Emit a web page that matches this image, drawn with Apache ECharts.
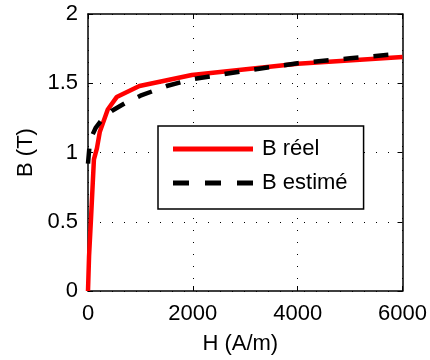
<!DOCTYPE html>
<html>
<head>
<meta charset="utf-8">
<script src="https://cdn.jsdelivr.net/npm/echarts@6/dist/echarts.min.js"></script>
<style>
html,body{margin:0;padding:0;background:#fff;}
#chart{width:430px;height:360px;}
</style>
</head>
<body>
<div id="chart"></div>
<script>
// Data
var H_reel = [0, 20, 57, 113, 170, 226, 377, 547, 981, 1981, 4000, 6000];
var B_reel = [0, 0.25, 0.52, 0.95, 1.03, 1.15, 1.31, 1.40, 1.48, 1.56, 1.64, 1.69];
var H_est = [0, 25, 75, 150, 250, 450, 700, 1000, 1500, 2000, 3000, 4000, 5000, 6000];
var B_est = [0.92, 1.03, 1.12, 1.18, 1.23, 1.30, 1.355, 1.41, 1.48, 1.53, 1.59, 1.645, 1.68, 1.715];
var seriesNames = ['B réel', 'B estimé'];
var xTicks = [0, 2000, 4000, 6000];
var yTicks = [0, 0.5, 1, 1.5, 2];
var xName = 'H (A/m)';
var yName = 'B (T)';

function pairs(xs, ys) { return xs.map(function (x, i) { return [x, ys[i]]; }); }

var FONT = 'Liberation Sans, Arial, sans-serif';
var chart = echarts.init(document.getElementById('chart'), null, {renderer: 'canvas'});
var gridDot = {show: true, lineStyle: {color: '#000', width: 1, type: [1, 11]}};
var baseX = {
  type: 'value', min: xTicks[0], max: xTicks[xTicks.length - 1], interval: 2000,
  axisLine: {show: true, onZero: false, lineStyle: {color: '#000', width: 1.5}},
  axisTick: {show: true, inside: true, length: 5, lineStyle: {color: '#000'}},
  splitLine: {show: false}
};
var baseY = {
  type: 'value', min: yTicks[0], max: yTicks[yTicks.length - 1], interval: 0.5,
  axisLine: {show: true, onZero: false, lineStyle: {color: '#000', width: 1.5}},
  axisTick: {show: true, inside: true, length: 5, lineStyle: {color: '#000'}},
  splitLine: {show: false}
};
var dashIcon = 'path://M0,0h16v5h-16z M32,0h16v5h-16z M64,0h16v5h-16z';
var solidIcon = 'path://M0,0h80v5h-80z';
chart.setOption({
  animation: false,
  backgroundColor: '#fff',
  grid: {left: 88, right: 24, top: 14, bottom: 67},
  xAxis: [
    Object.assign({}, baseX, {
      position: 'bottom',
      name: xName, nameLocation: 'middle', nameGap: 42,
      nameTextStyle: {fontFamily: FONT, fontSize: 22, color: '#000', padding: [0, 10, 0, 0]},
      axisLabel: {fontFamily: FONT, fontSize: 22, color: '#000', margin: 12,
        formatter: function (v) { return String(v); }},
      splitLine: gridDot
    }),
    Object.assign({}, baseX, {position: 'top', axisLabel: {show: false}})
  ],
  yAxis: [
    Object.assign({}, baseY, {
      position: 'left',
      name: yName, nameLocation: 'middle', nameGap: 45,
      nameTextStyle: {fontFamily: FONT, fontSize: 22, color: '#000'},
      axisLabel: {fontFamily: FONT, fontSize: 22, color: '#000', margin: 10,
        formatter: function (v) { return String(v); }},
      splitLine: gridDot
    }),
    Object.assign({}, baseY, {position: 'right', axisLabel: {show: false}})
  ],
  legend: {
    left: 158, top: 126,
    orient: 'vertical',
    backgroundColor: '#fff',
    borderColor: '#000', borderWidth: 1.5, borderRadius: 0,
    padding: [12, 16, 15, 15],
    itemGap: 12,
    itemWidth: 80, itemHeight: 5,
    textStyle: {fontFamily: FONT, fontSize: 22, color: '#000', padding: [0, 0, 0, 4]},
    data: [
      {name: seriesNames[0], icon: solidIcon, itemStyle: {color: '#ff0000'}},
      {name: seriesNames[1], icon: dashIcon, itemStyle: {color: '#000'}}
    ]
  },
  series: [
    {
      name: seriesNames[0], type: 'line', data: pairs(H_reel, B_reel),
      symbol: 'none', showSymbol: false,
      lineStyle: {color: '#ff0000', width: 4.5},
      itemStyle: {color: '#ff0000'}, z: 2
    },
    {
      name: seriesNames[1], type: 'line', data: pairs(H_est, B_est),
      symbol: 'none', showSymbol: false,
      lineStyle: {color: '#000', width: 4.5, type: [15, 15]},
      itemStyle: {color: '#000'}, z: 3
    }
  ]
});
</script>
</body>
</html>
